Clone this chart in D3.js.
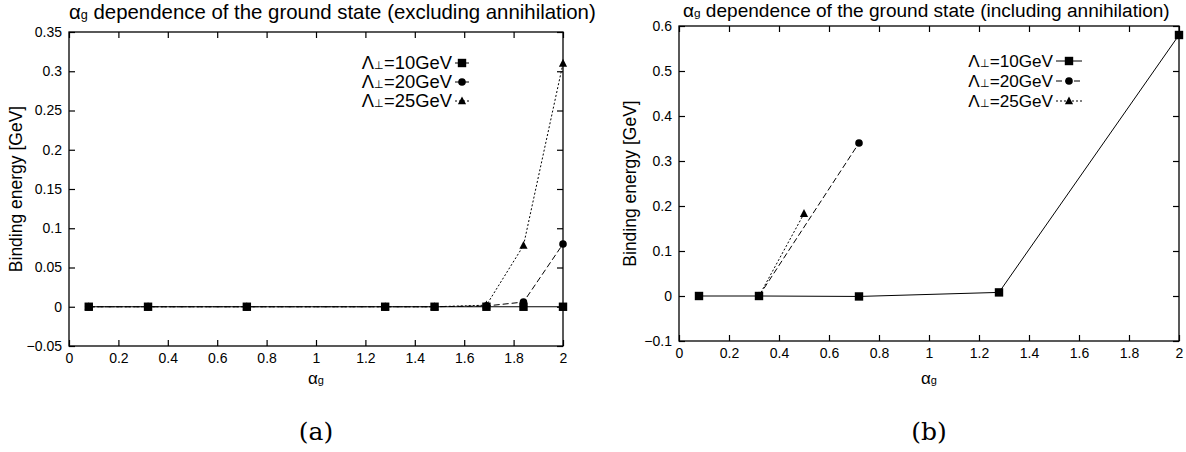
<!DOCTYPE html>
<html>
<head>
<meta charset="utf-8">
<script src="https://cdn.jsdelivr.net/npm/d3@7"></script>
<style>
  body { margin: 0; background: #fff; }
  svg { display: block; font-family: "Liberation Sans", Arial, sans-serif; }
</style>
</head>
<body>
<svg id="chart" width="1186" height="452"></svg>
<script>
// Series labels (same for both panels)
const seriesNames = ['10GeV', '20GeV', '25GeV'];

// Panel (a): excluding annihilation
const alphaA = [0.08, 0.32, 0.72, 1.28, 1.48, 1.69, 1.84, 2.0];
const energyA10 = [0, 0, 0, 0, 0, 0, 0, 0];
const energyA20 = [0, 0, 0, 0, 0, 0.001, 0.006, 0.08];
const energyA25 = [0, 0, 0, 0, 0, 0.002, 0.078, 0.31];

// Panel (b): including annihilation
const alphaB10 = [0.08, 0.32, 0.72, 1.28, 2.0];
const energyB10 = [0, 0, -0.001, 0.008, 0.58];
const alphaB20 = [0.32, 0.72];
const energyB20 = [0, 0.34];
const alphaB25 = [0.32, 0.5];
const energyB25 = [0, 0.183];

// Tick labels
const xTicks = [0, 0.2, 0.4, 0.6, 0.8, 1, 1.2, 1.4, 1.6, 1.8, 2];
const yTicksA = [-0.05, 0, 0.05, 0.1, 0.15, 0.2, 0.25, 0.3, 0.35];
const yTicksB = [-0.1, 0, 0.1, 0.2, 0.3, 0.4, 0.5, 0.6];

const svg = d3.select('#chart');

const lineStyles = [
  { dash: null, marker: 'square' },
  { dash: '6,3', marker: 'circle' },
  { dash: '2,2', marker: 'triangle' }
];

function zip(xs, ys) {
  return xs.map((x, i) => ({ x: x, y: ys[i] }));
}

function setSize(text, fs, subRatio) {
  text.style('font-size', fs + 'px');
  text.selectAll('tspan.sub').style('font-size', fs * subRatio + 'px');
}

// scale a text's font so that it spans the wanted width, returns the size
function fitWidth(text, width, subRatio) {
  const base = 16;
  setSize(text, base, subRatio);
  const fs = base * width / text.node().getComputedTextLength();
  setSize(text, fs, subRatio);
  return fs;
}

function drawPanel(cfg) {
  const g = svg.append('g');
  const x = d3.scaleLinear().domain([0, 2]).range([cfg.left, cfg.right]);
  const y = d3.scaleLinear().domain(cfg.yDomain).range([cfg.bottom, cfg.top]);

  // Title with subscript g
  const title = g.append('text')
    .attr('x', cfg.titleX).attr('y', cfg.titleY);
  title.append('tspan').text('\u03b1');
  title.append('tspan').attr('class', 'sub').text('g');
  title.append('tspan').text(' dependence of the ground state (' + cfg.titleWord + ' annihilation)');
  const titleSize = fitWidth(title, cfg.titleW, 0.62);

  // Frame
  g.append('rect')
    .attr('x', cfg.left).attr('y', cfg.top)
    .attr('width', cfg.right - cfg.left).attr('height', cfg.bottom - cfg.top)
    .attr('fill', 'none').attr('stroke', '#000').attr('stroke-width', 1.3);

  // Axes with inward ticks, mirrored
  const tickLen = 6;
  g.append('g').attr('transform', `translate(0,${cfg.bottom})`)
    .call(d3.axisBottom(x).tickValues(xTicks).tickSize(-tickLen).tickPadding(7).tickFormat(d3.format('')))
    .call(a => a.select('.domain').remove());
  g.append('g').attr('transform', `translate(0,${cfg.top})`)
    .call(d3.axisTop(x).tickValues(xTicks).tickSize(-tickLen).tickFormat(''))
    .call(a => a.select('.domain').remove());
  g.append('g').attr('transform', `translate(${cfg.left},0)`)
    .call(d3.axisLeft(y).tickValues(cfg.yTicks).tickSize(-tickLen).tickPadding(7).tickFormat(d3.format('')))
    .call(a => a.select('.domain').remove());
  g.append('g').attr('transform', `translate(${cfg.right},0)`)
    .call(d3.axisRight(y).tickValues(cfg.yTicks).tickSize(-tickLen).tickFormat(''))
    .call(a => a.select('.domain').remove());
  g.selectAll('.tick text').style('font-size', '14px').style('font-family', '"Liberation Sans", Arial, sans-serif').attr('fill', '#000');
  g.selectAll('.tick line').attr('stroke', '#000').attr('stroke-width', 1.2);

  // Axis labels
  g.append('text')
    .attr('transform', `translate(${cfg.yLabelX},${(cfg.top + cfg.bottom) / 2}) rotate(-90)`)
    .attr('text-anchor', 'middle')
    .style('font-size', '17.5px')
    .text('Binding energy [GeV]');
  const xl = g.append('text')
    .attr('x', (cfg.left + cfg.right) / 2).attr('y', cfg.xLabelY)
    .attr('text-anchor', 'middle')
    .style('font-size', '17px');
  xl.append('tspan').text('\u03b1');
  xl.append('tspan').text('g').style('font-size', '11px');

  // Caption
  g.append('text')
    .attr('x', (cfg.left + cfg.right) / 2).attr('y', cfg.captionY)
    .attr('text-anchor', 'middle')
    .style('font-family', '"DejaVu Serif", "Liberation Serif", serif')
    .style('font-size', '25px')
    .text(cfg.caption);

  const line = d3.line().x(d => x(d.x)).y(d => y(d.y));

  cfg.series.forEach((s, i) => {
    const st = lineStyles[i];
    g.append('path')
      .datum(s)
      .attr('d', line)
      .attr('fill', 'none')
      .attr('stroke', '#000')
      .attr('stroke-width', 1)
      .attr('stroke-dasharray', st.dash);
    drawMarkers(g, s.map(d => [x(d.x), y(d.y)]), st.marker);
  });

  // Legend, about the title's type size
  const legendSize = titleSize * 0.9;
  seriesNames.forEach((name, i) => {
    const st = lineStyles[i];
    const ly = cfg.legendY[i];
    const t = g.append('text')
      .attr('x', cfg.legendX).attr('y', ly + 6)
      .attr('text-anchor', 'end');
    t.append('tspan').text('\u039b');
    t.append('tspan').attr('class', 'sub').text('\u22a5');
    t.append('tspan').text('=' + name);
    setSize(t, legendSize, 0.62);
    const sx0 = cfg.legendX + 3, sx1 = cfg.legendX + 3 + cfg.sampleLen;
    g.append('line')
      .attr('x1', sx0).attr('x2', sx1).attr('y1', ly).attr('y2', ly)
      .attr('stroke', '#000').attr('stroke-width', 1)
      .attr('stroke-dasharray', st.dash);
    drawMarkers(g, [[(sx0 + sx1) / 2, ly]], st.marker);
  });
}

function drawMarkers(g, pts, kind) {
  if (kind === 'square') {
    g.selectAll(null).data(pts).join('rect')
      .attr('x', d => d[0] - 4.2).attr('y', d => d[1] - 4.2)
      .attr('width', 8.4).attr('height', 8.4).attr('fill', '#000');
  } else if (kind === 'circle') {
    g.selectAll(null).data(pts).join('circle')
      .attr('cx', d => d[0]).attr('cy', d => d[1]).attr('r', 3.8).attr('fill', '#000');
  } else {
    g.selectAll(null).data(pts).join('path')
      .attr('d', d => `M${d[0]},${d[1] - 4.6}L${d[0] + 4.1},${d[1] + 3.3}L${d[0] - 4.1},${d[1] + 3.3}Z`)
      .attr('fill', '#000');
  }
}

drawPanel({
  left: 69, right: 563, top: 32, bottom: 346,
  yDomain: [-0.05, 0.35], yTicks: yTicksA,
  titleX: 69, titleY: 19, titleW: 527, titleWord: 'excluding',
  yLabelX: 22, xLabelY: 384, captionY: 440, caption: '(a)',
  legendX: 452, legendY: [63, 82, 101], sampleLen: 14,
  series: [zip(alphaA, energyA10), zip(alphaA, energyA20), zip(alphaA, energyA25)]
});

drawPanel({
  left: 679, right: 1179, top: 26, bottom: 341,
  yDomain: [-0.1, 0.6], yTicks: yTicksB,
  titleX: 683, titleY: 17, titleW: 487, titleWord: 'including',
  yLabelX: 636, xLabelY: 384, captionY: 440, caption: '(b)',
  legendX: 1053, legendY: [61, 81, 101], sampleLen: 26,
  series: [zip(alphaB10, energyB10), zip(alphaB20, energyB20), zip(alphaB25, energyB25)]
});
</script>
</body>
</html>
